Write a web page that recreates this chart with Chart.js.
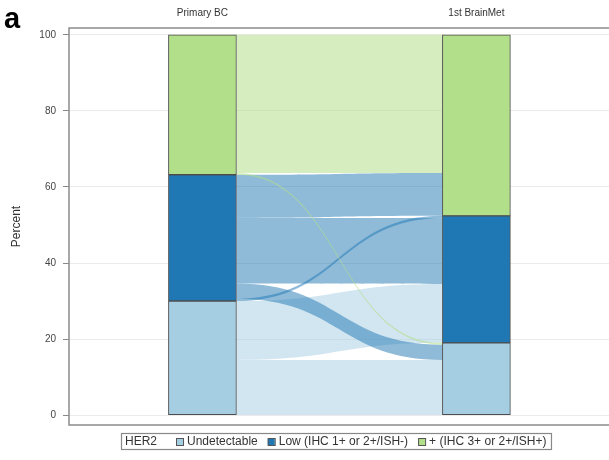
<!DOCTYPE html>
<html>
<head>
<meta charset="utf-8">
<script src="https://cdn.jsdelivr.net/npm/chart.js@4.4.1/dist/chart.umd.min.js"></script>
<style>
body{margin:0;background:#fff;}
</style>
</head>
<body>
<canvas id="myChart" width="609" height="460"></canvas>
<script>
const stages = ['Primary BC', '1st BrainMet'];
const her2Levels = ['Undetectable', 'Low (IHC 1+ or 2+/ISH-)', '+ (IHC 3+ or 2+/ISH+)'];
const primaryPct = [30, 33.2, 36.8];
const brainMetPct = [19, 33.4, 47.6];
// flows primary -> brain met, listed in stacking order on the primary side
const flowFrom = [0, 0, 1, 1, 1, 1, 2, 2];
const flowTo = [0, 1, 1, 0, 1, 2, 0, 2];
const flowPct = [14.5, 15.5, 0.6, 4.0, 17.3, 11.3, 0.5, 36.3];
// stacking order on the brain met side (indexes into the flow arrays)
const flowOrderRight = [0, 3, 6, 1, 4, 2, 5, 7];
const yTicks = [0, 20, 40, 60, 80, 100];

const barColors = ['#a6cee3', '#1f78b4', '#b2df8a'];
const flowColors = ['rgba(166,206,227,0.5)', 'rgba(31,120,180,0.5)', 'rgba(178,223,138,0.55)'];
const barW = 68;
const fam = '"Liberation Sans", Arial, sans-serif';
Chart.defaults.font.family = fam;

function stackRanges(vals) {
    let acc = 0;
    return vals.map(v => { let r = [acc, acc + v]; acc += v; return r; });
}
let leftRanges = stackRanges(primaryPct);
let rightRanges = stackRanges(brainMetPct);

let datasets = her2Levels.map((lab, k) => ({
    label: lab,
    data: [{x: 0, y: leftRanges[k]}, {x: 1, y: rightRanges[k]}],
    backgroundColor: barColors[k],
    borderColor: '#4d4d4d',
    borderWidth: 1,
    borderSkipped: false,
    barThickness: barW,
    grouped: false
}));

const flowPlugin = {
    id: 'flows',
    beforeDatasetsDraw(chart) {
        let ctx = chart.ctx, xs = chart.scales.x, ys = chart.scales.y;
        let x0 = xs.getPixelForValue(0) + barW / 2;
        let x1 = xs.getPixelForValue(1) - barW / 2;
        let xm = (x0 + x1) / 2;
        let lStart = [], rStart = [];
        let acc = 0;
        flowPct.forEach((v, i) => { lStart[i] = acc; acc += v; });
        acc = 0;
        flowOrderRight.forEach(i => { rStart[i] = acc; acc += flowPct[i]; });
        ctx.save();
        ctx.beginPath();
        ctx.rect(chart.chartArea.left, chart.chartArea.top, chart.chartArea.width, chart.chartArea.height);
        ctx.clip();
        flowPct.forEach((v, i) => {
            let yl0 = ys.getPixelForValue(lStart[i]), yl1 = ys.getPixelForValue(lStart[i] + v);
            let yr0 = ys.getPixelForValue(rStart[i]), yr1 = ys.getPixelForValue(rStart[i] + v);
            ctx.beginPath();
            ctx.moveTo(x0, yl1);
            ctx.bezierCurveTo(xm, yl1, xm, yr1, x1, yr1);
            ctx.lineTo(x1, yr0);
            ctx.bezierCurveTo(xm, yr0, xm, yl0, x0, yl0);
            ctx.closePath();
            ctx.fillStyle = flowColors[flowFrom[i]];
            ctx.fill();
        });
        ctx.restore();
    }
};

const framePlugin = {
    id: 'frame',
    afterDraw(chart) {
        let ctx = chart.ctx, a = chart.chartArea;
        ctx.save();
        ctx.strokeStyle = '#8c8c8c';
        ctx.lineWidth = 1.5;
        ctx.beginPath();
        ctx.moveTo(a.right + 2, a.top);
        ctx.lineTo(a.left, a.top);
        ctx.lineTo(a.left, a.bottom);
        ctx.lineTo(a.right + 2, a.bottom);
        ctx.stroke();

        // panel letter
        ctx.fillStyle = '#000';
        ctx.font = 'bold 29px ' + fam;
        ctx.textBaseline = 'alphabetic';
        ctx.textAlign = 'left';
        ctx.fillText('a', 4, 28);

        // legend box
        ctx.font = '12px ' + fam;
        ctx.textBaseline = 'middle';
        let y = 442, x = 125;
        ctx.fillStyle = '#333';
        ctx.fillText('HER2', x, y);
        x += ctx.measureText('HER2').width + 19;
        her2Levels.forEach((lab, k) => {
            ctx.fillStyle = barColors[k];
            ctx.fillRect(x, y - 3.5, 7, 7);
            ctx.strokeStyle = '#555';
            ctx.lineWidth = 1;
            ctx.strokeRect(x + 0.5, y - 3.5, 7, 7);
            x += 11;
            ctx.fillStyle = '#333';
            ctx.fillText(lab, x, y);
            x += ctx.measureText(lab).width + 10;
        });
        ctx.strokeStyle = '#888';
        ctx.lineWidth = 1.2;
        ctx.strokeRect(121.5, 433.5, x - 121.5 - 5, 16);
        ctx.restore();
    }
};

let myChart = new Chart(document.getElementById('myChart').getContext('2d'), {
    type: 'bar',
    data: {datasets: datasets},
    options: {
        responsive: false,
        animation: false,
        layout: {padding: {left: 0, right: 0, top: 0, bottom: 35}},
        plugins: {legend: {display: false}, tooltip: {enabled: false}},
        scales: {
            x: {
                type: 'linear',
                position: 'top',
                min: -0.487,
                max: 1.484,
                offset: false,
                grid: {display: false, offset: false},
                border: {display: false},
                afterBuildTicks: s => { s.ticks = stages.map((_, i) => ({value: i})); },
                ticks: {
                    callback: (v, i) => stages[i],
                    color: '#333',
                    font: {size: 10},
                    padding: 1,
                    maxRotation: 0,
                    autoSkip: false
                },
                afterFit: s => { s.height = 28; }
            },
            y: {
                min: -2.6,
                max: 101.8,
                afterBuildTicks: s => { s.ticks = yTicks.map(v => ({value: v})); },
                grid: {color: '#ebebeb', tickColor: '#888', tickLength: 6, drawTicks: true},
                border: {display: false},
                ticks: {color: '#444', font: {size: 10}, padding: 7},
                title: {display: true, text: 'Percent', color: '#333', font: {size: 12}, padding: {top: 9, bottom: 0}},
                afterFit: s => { s.width = 69; }
            }
        }
    },
    plugins: [flowPlugin, framePlugin]
});
</script>
</body>
</html>
